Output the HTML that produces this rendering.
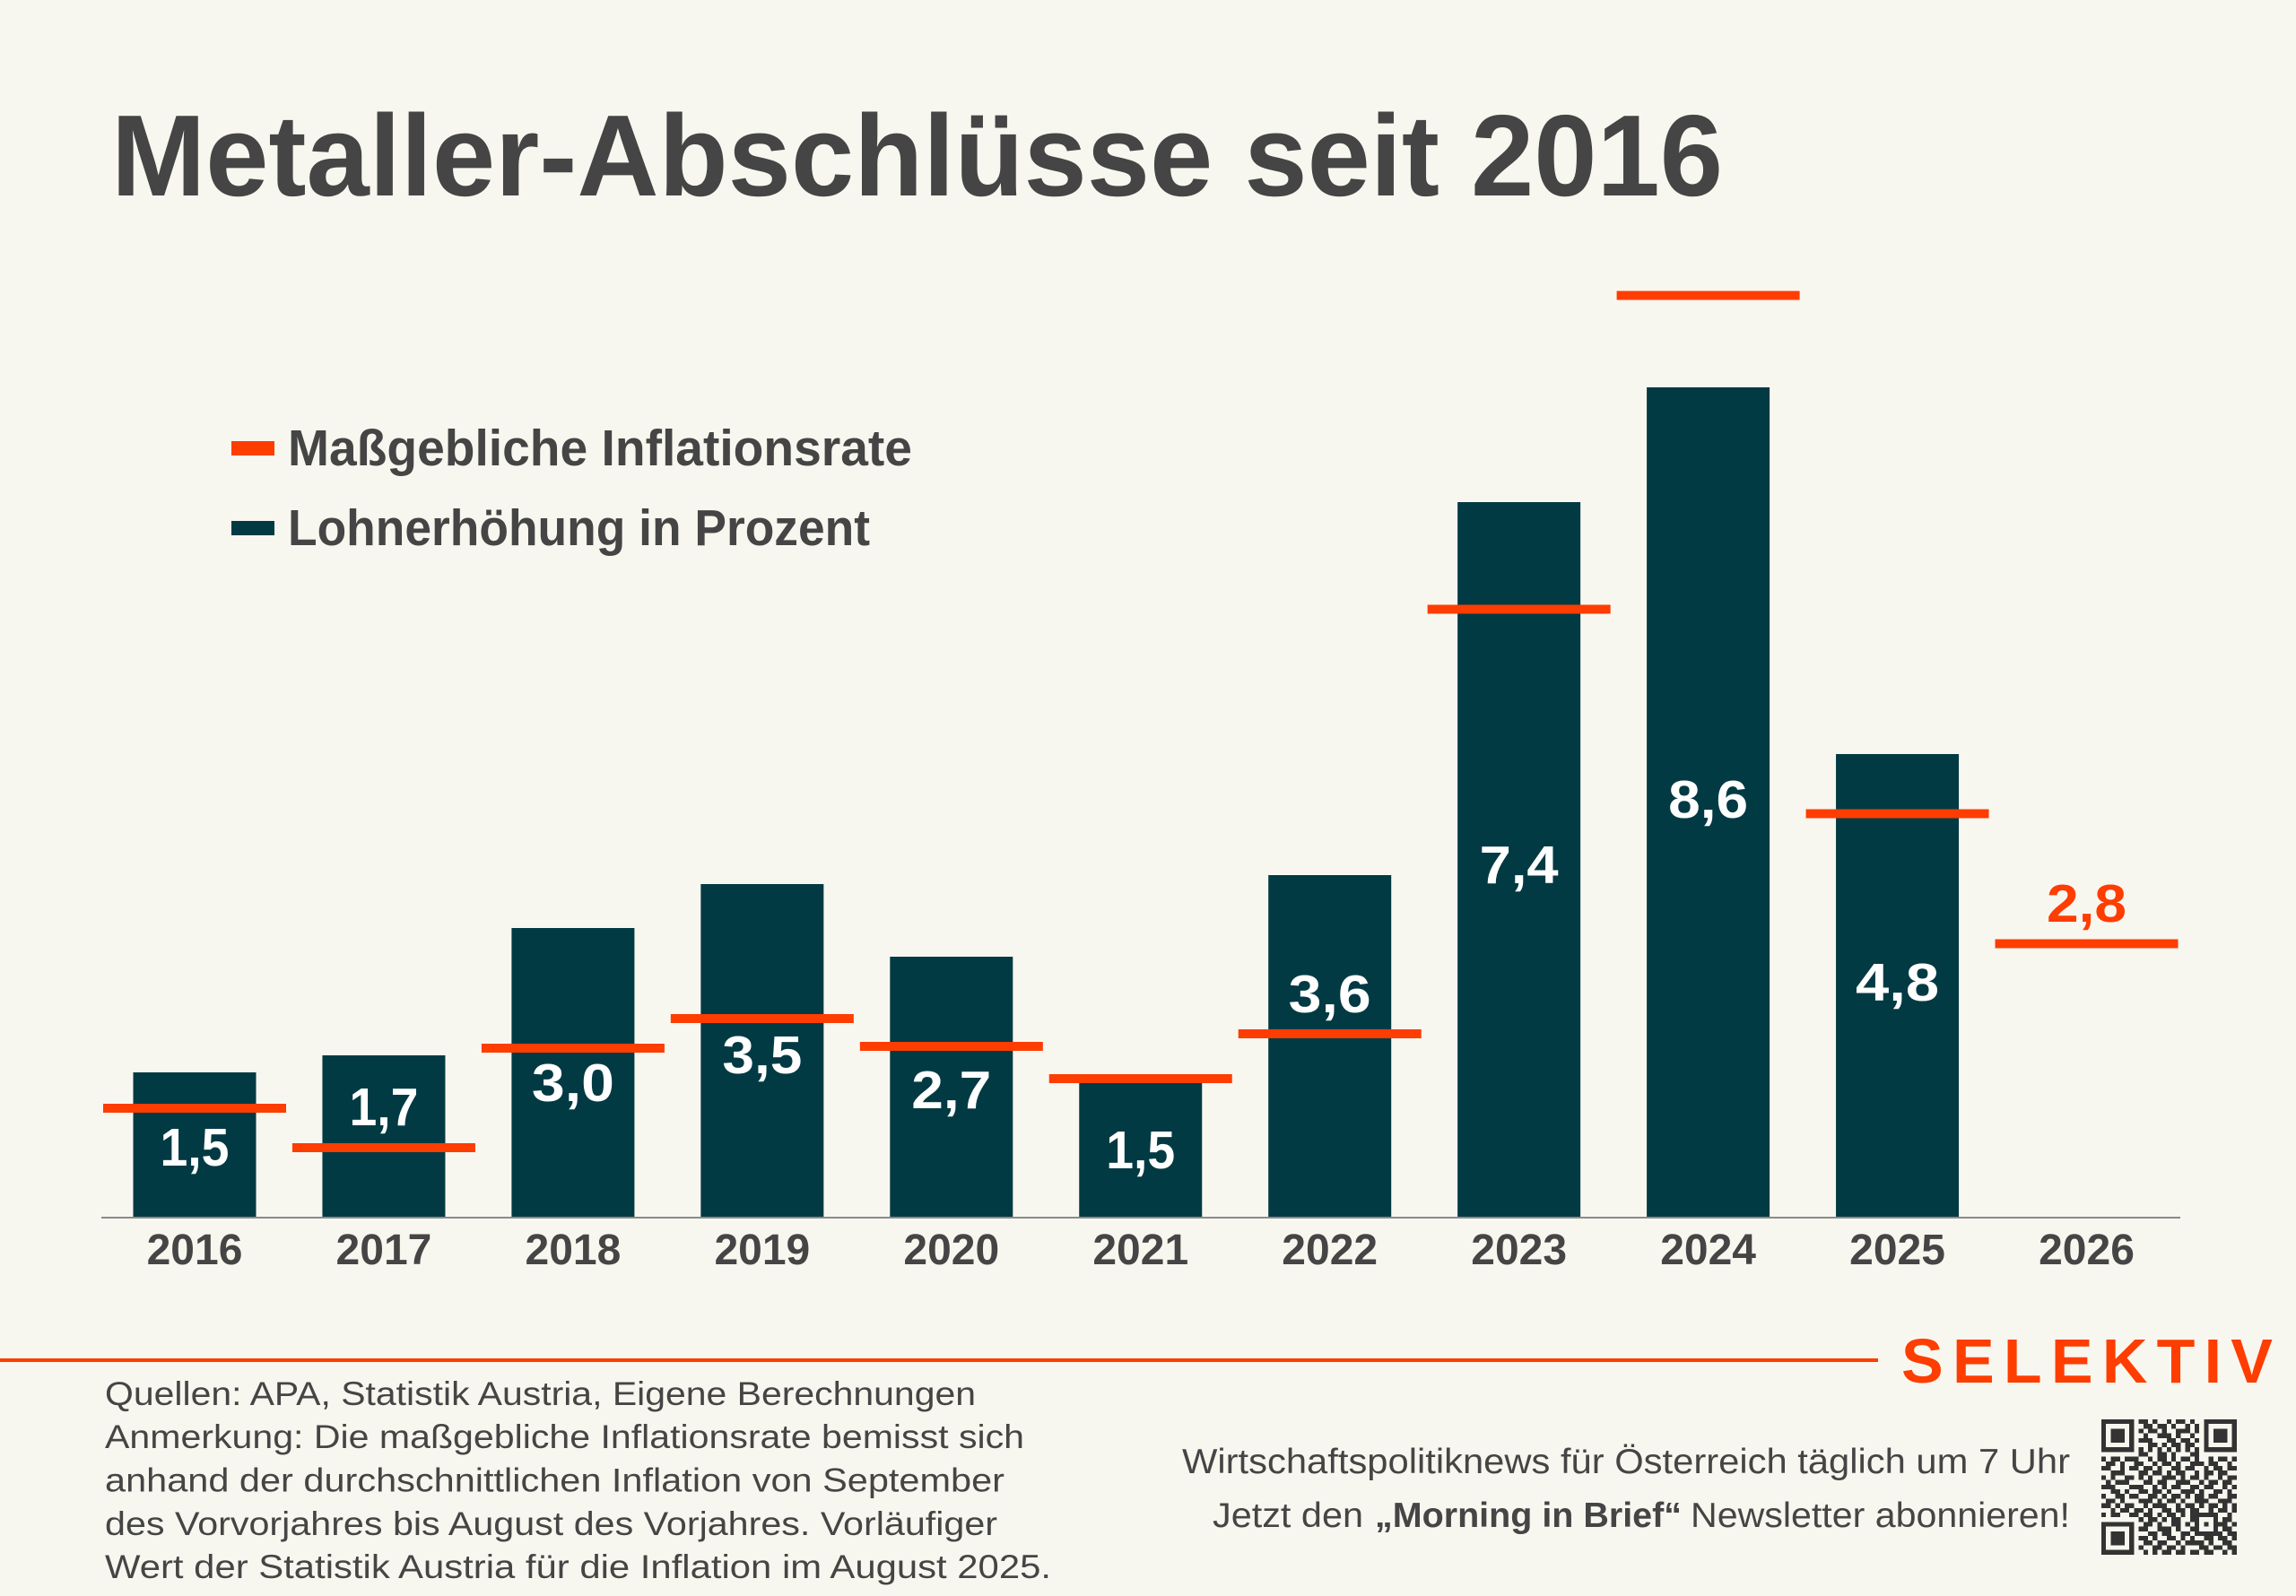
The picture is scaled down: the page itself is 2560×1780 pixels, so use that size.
<!DOCTYPE html>
<html>
<head>
<meta charset="utf-8">
<style>
html,body{margin:0;padding:0;background:#f8f7ef;}
svg{display:block;}
text{font-family:"Liberation Sans","DejaVu Sans",sans-serif;}
</style>
</head>
<body>
<svg width="2560" height="1780" viewBox="0 0 2560 1780" xmlns="http://www.w3.org/2000/svg">
<rect x="0" y="0" width="2560" height="1780" fill="#f8f7ef"/>

<!-- Title -->
<text x="124" y="218" font-size="129" font-weight="bold" fill="#454545" textLength="1797" lengthAdjust="spacingAndGlyphs">Metaller-Abschlüsse seit 2016</text>

<!-- Legend -->
<rect x="258" y="492" width="48" height="16" fill="#fe3d00"/>
<text x="321" y="519" font-size="57" font-weight="bold" fill="#454545" textLength="696" lengthAdjust="spacingAndGlyphs">Maßgebliche Inflationsrate</text>
<rect x="258" y="581" width="48" height="16" fill="#023a44"/>
<text x="321" y="608" font-size="57" font-weight="bold" fill="#454545" textLength="649" lengthAdjust="spacingAndGlyphs">Lohnerhöhung in Prozent</text>

<!-- Bars -->
<g fill="#023a44">
<rect x="148.5" y="1196" width="137" height="162"/>
<rect x="359.45" y="1177" width="137" height="181"/>
<rect x="570.4" y="1035" width="137" height="323"/>
<rect x="781.35" y="986" width="137" height="372"/>
<rect x="992.3" y="1067" width="137" height="291"/>
<rect x="1203.25" y="1200" width="137" height="158"/>
<rect x="1414.2" y="976" width="137" height="382"/>
<rect x="1625.15" y="560" width="137" height="798"/>
<rect x="1836.1" y="432" width="137" height="926"/>
<rect x="2047.05" y="841" width="137" height="517"/>
</g>

<!-- Axis -->
<rect x="113" y="1357" width="2318" height="2" fill="#8a8a8a"/>

<!-- Inflation lines -->
<g fill="#fe3d00">
<rect x="115" y="1231" width="204" height="10"/>
<rect x="325.95" y="1275" width="204" height="10"/>
<rect x="536.9" y="1164" width="204" height="10"/>
<rect x="747.85" y="1131" width="204" height="10"/>
<rect x="958.8" y="1162" width="204" height="10"/>
<rect x="1169.75" y="1198" width="204" height="10"/>
<rect x="1380.7" y="1148" width="204" height="10"/>
<rect x="1591.65" y="674.5" width="204" height="10"/>
<rect x="1802.6" y="324.5" width="204" height="10"/>
<rect x="2013.55" y="902.5" width="204" height="10"/>
<rect x="2224.5" y="1047.5" width="204" height="10"/>
</g>

<!-- Value labels -->
<g font-size="59" font-weight="bold" fill="#ffffff" text-anchor="middle">
<text x="217" y="1300" textLength="77" lengthAdjust="spacingAndGlyphs">1,5</text>
<text x="427.95" y="1255" textLength="77" lengthAdjust="spacingAndGlyphs">1,7</text>
<text x="638.9" y="1228" textLength="92" lengthAdjust="spacingAndGlyphs">3,0</text>
<text x="849.85" y="1197" textLength="89" lengthAdjust="spacingAndGlyphs">3,5</text>
<text x="1060.8" y="1236" textLength="89" lengthAdjust="spacingAndGlyphs">2,7</text>
<text x="1271.75" y="1303" textLength="77" lengthAdjust="spacingAndGlyphs">1,5</text>
<text x="1482.7" y="1129" textLength="92" lengthAdjust="spacingAndGlyphs">3,6</text>
<text x="1693.65" y="985" textLength="88" lengthAdjust="spacingAndGlyphs">7,4</text>
<text x="1904.6" y="912" textLength="89" lengthAdjust="spacingAndGlyphs">8,6</text>
<text x="2115.55" y="1116" textLength="93" lengthAdjust="spacingAndGlyphs">4,8</text>
<text x="2326.5" y="1028" fill="#fe3d00" textLength="89" lengthAdjust="spacingAndGlyphs">2,8</text>
</g>

<!-- Year labels -->
<g font-size="48" font-weight="bold" fill="#454545" text-anchor="middle">
<text x="217" y="1410">2016</text>
<text x="427.95" y="1410">2017</text>
<text x="638.9" y="1410">2018</text>
<text x="849.85" y="1410">2019</text>
<text x="1060.8" y="1410">2020</text>
<text x="1271.75" y="1410">2021</text>
<text x="1482.7" y="1410">2022</text>
<text x="1693.65" y="1410">2023</text>
<text x="1904.6" y="1410">2024</text>
<text x="2115.55" y="1410">2025</text>
<text x="2326.5" y="1410">2026</text>
</g>

<!-- Footer line + logo -->
<rect x="0" y="1515" width="2094" height="4" fill="#fe3d00"/>
<text x="2120" y="1542" font-size="70" font-weight="bold" fill="#fe3d00" textLength="414" lengthAdjust="spacing">SELEKTIV</text>

<!-- Left footer -->
<g font-size="37" fill="#454545">
<text x="117" y="1567" textLength="971" lengthAdjust="spacingAndGlyphs">Quellen: APA, Statistik Austria, Eigene Berechnungen</text>
<text x="117" y="1615" textLength="1025" lengthAdjust="spacingAndGlyphs">Anmerkung: Die maßgebliche Inflationsrate bemisst sich</text>
<text x="117" y="1663.5" textLength="1003" lengthAdjust="spacingAndGlyphs">anhand der durchschnittlichen Inflation von September</text>
<text x="117" y="1712" textLength="995" lengthAdjust="spacingAndGlyphs">des Vorvorjahres bis August des Vorjahres. Vorläufiger</text>
<text x="117" y="1760" textLength="1055" lengthAdjust="spacingAndGlyphs">Wert der Statistik Austria für die Inflation im August 2025.</text>
</g>

<!-- Right footer -->
<g font-size="39" fill="#454545">
<text x="1318" y="1643" textLength="990" lengthAdjust="spacingAndGlyphs">Wirtschaftspolitiknews für Österreich täglich um 7 Uhr</text>
<text x="1352" y="1703" textLength="168" lengthAdjust="spacingAndGlyphs">Jetzt den</text>
<text x="1533" y="1703" font-weight="bold" textLength="342" lengthAdjust="spacingAndGlyphs">„Morning in Brief“</text>
<text x="1885" y="1703" textLength="423" lengthAdjust="spacingAndGlyphs">Newsletter abonnieren!</text>
</g>

<!-- QR code -->
<g transform="translate(2343,1583) scale(5.2)" fill="#333333" shape-rendering="crispEdges">
<path d="
M0 0h7v1h-7z M8 0h2v1h-2z M11 0h1v1h-1z M14 0h1v1h-1z M16 0h2v1h-2z M19 0h1v1h-1z M22 0h7v1h-7z
M0 1h1v1h-1z M6 1h1v1h-1z M9 1h2v1h-2z M12 1h2v1h-2z M15 1h1v1h-1z M18 1h1v1h-1z M20 1h1v1h-1z M22 1h1v1h-1z M28 1h1v1h-1z
M0 2h1v1h-1z M2 2h3v1h-3z M6 2h1v1h-1z M8 2h1v1h-1z M10 2h2v1h-2z M13 2h1v1h-1z M16 2h3v1h-3z M20 2h1v1h-1z M22 2h1v1h-1z M24 2h3v1h-3z M28 2h1v1h-1z
M0 3h1v1h-1z M2 3h3v1h-3z M6 3h1v1h-1z M9 3h1v1h-1z M12 3h3v1h-3z M16 3h1v1h-1z M19 3h1v1h-1z M22 3h1v1h-1z M24 3h3v1h-3z M28 3h1v1h-1z
M0 4h1v1h-1z M2 4h3v1h-3z M6 4h1v1h-1z M8 4h3v1h-3z M14 4h2v1h-2z M17 4h2v1h-2z M20 4h1v1h-1z M22 4h1v1h-1z M24 4h3v1h-3z M28 4h1v1h-1z
M0 5h1v1h-1z M6 5h1v1h-1z M10 5h2v1h-2z M13 5h1v1h-1z M15 5h2v1h-2z M18 5h2v1h-2z M22 5h1v1h-1z M28 5h1v1h-1z
M0 6h7v1h-7z M8 6h1v1h-1z M10 6h1v1h-1z M12 6h1v1h-1z M14 6h1v1h-1z M16 6h1v1h-1z M18 6h1v1h-1z M20 6h1v1h-1z M22 6h7v1h-7z
M8 7h2v1h-2z M12 7h2v1h-2z M15 7h1v1h-1z M19 7h2v1h-2z
M0 8h1v1h-1z M2 8h2v1h-2z M5 8h3v1h-3z M10 8h1v1h-1z M12 8h2v1h-2z M15 8h1v1h-1z M17 8h2v1h-2z M20 8h1v1h-1z M23 8h1v1h-1z M25 8h2v1h-2z M28 8h1v1h-1z
M1 9h2v1h-2z M4 9h1v1h-1z M7 9h2v1h-2z M11 9h1v1h-1z M13 9h2v1h-2z M16 9h1v1h-1z M19 9h3v1h-3z M23 9h2v1h-2z M27 9h1v1h-1z
M0 10h2v1h-2z M4 10h1v1h-1z M6 10h2v1h-2z M9 10h2v1h-2z M12 10h1v1h-1z M15 10h2v1h-2z M18 10h2v1h-2z M22 10h1v1h-1z M24 10h2v1h-2z M27 10h2v1h-2z
M2 11h3v1h-3z M8 11h2v1h-2z M11 11h2v1h-2z M14 11h1v1h-1z M16 11h2v1h-2z M20 11h1v1h-1z M22 11h2v1h-2z M25 11h2v1h-2z
M0 12h1v1h-1z M2 12h1v1h-1z M5 12h2v1h-2z M8 12h1v1h-1z M10 12h1v1h-1z M13 12h3v1h-3z M17 12h1v1h-1z M19 12h2v1h-2z M22 12h1v1h-1z M25 12h1v1h-1z M27 12h2v1h-2z
M1 13h1v1h-1z M3 13h3v1h-3z M9 13h2v1h-2z M12 13h2v1h-2z M16 13h3v1h-3z M21 13h1v1h-1z M23 13h2v1h-2z M26 13h2v1h-2z
M0 14h3v1h-3z M6 14h3v1h-3z M11 14h1v1h-1z M13 14h1v1h-1z M15 14h2v1h-2z M19 14h2v1h-2z M22 14h2v1h-2z M26 14h1v1h-1z M28 14h1v1h-1z
M2 15h2v1h-2z M5 15h1v1h-1z M8 15h2v1h-2z M11 15h2v1h-2z M14 15h1v1h-1z M17 15h3v1h-3z M21 15h1v1h-1z M24 15h2v1h-2z M27 15h1v1h-1z
M0 16h1v1h-1z M3 16h2v1h-2z M6 16h2v1h-2z M10 16h2v1h-2z M13 16h1v1h-1z M15 16h2v1h-2z M18 16h1v1h-1z M20 16h2v1h-2z M23 16h2v1h-2z M27 16h2v1h-2z
M1 17h2v1h-2z M4 17h1v1h-1z M8 17h3v1h-3z M12 17h1v1h-1z M14 17h2v1h-2z M17 17h1v1h-1z M20 17h3v1h-3z M25 17h3v1h-3z
M0 18h2v1h-2z M3 18h1v1h-1z M5 18h2v1h-2z M9 18h1v1h-1z M11 18h3v1h-3z M16 18h1v1h-1z M18 18h2v1h-2z M21 18h1v1h-1z M23 18h2v1h-2z M26 18h1v1h-1z M28 18h1v1h-1z
M2 19h1v1h-1z M4 19h2v1h-2z M7 19h2v1h-2z M10 19h1v1h-1z M13 19h2v1h-2z M16 19h2v1h-2z M19 19h2v1h-2z M23 19h1v1h-1z M25 19h2v1h-2z M28 19h1v1h-1z
M0 20h1v1h-1z M2 20h2v1h-2z M6 20h2v1h-2z M9 20h2v1h-2z M12 20h1v1h-1z M14 20h2v1h-2z M17 20h1v1h-1z M19 20h6v1h-6z M27 20h1v1h-1z
M8 21h1v1h-1z M10 21h2v1h-2z M13 21h1v1h-1z M15 21h2v1h-2z M19 21h2v1h-2z M24 21h1v1h-1z M26 21h2v1h-2z
M0 22h7v1h-7z M9 22h2v1h-2z M12 22h1v1h-1z M15 22h2v1h-2z M18 22h1v1h-1z M20 22h1v1h-1z M22 22h1v1h-1z M24 22h3v1h-3z M28 22h1v1h-1z
M0 23h1v1h-1z M6 23h1v1h-1z M8 23h2v1h-2z M12 23h3v1h-3z M16 23h1v1h-1z M19 23h2v1h-2z M24 23h1v1h-1z M26 23h2v1h-2z
M0 24h1v1h-1z M2 24h3v1h-3z M6 24h1v1h-1z M10 24h2v1h-2z M13 24h2v1h-2z M17 24h2v1h-2z M20 24h6v1h-6z M27 24h2v1h-2z
M0 25h1v1h-1z M2 25h3v1h-3z M6 25h1v1h-1z M8 25h2v1h-2z M11 25h1v1h-1z M14 25h2v1h-2z M17 25h1v1h-1z M19 25h1v1h-1z M22 25h2v1h-2z M25 25h2v1h-2z M28 25h1v1h-1z
M0 26h1v1h-1z M2 26h3v1h-3z M6 26h1v1h-1z M9 26h2v1h-2z M12 26h2v1h-2z M16 26h1v1h-1z M18 26h4v1h-4z M23 26h1v1h-1z M26 26h2v1h-2z
M0 27h1v1h-1z M6 27h1v1h-1z M8 27h1v1h-1z M11 27h2v1h-2z M14 27h2v1h-2z M17 27h1v1h-1z M21 27h2v1h-2z M24 27h2v1h-2z M27 27h2v1h-2z
M0 28h7v1h-7z M9 28h1v1h-1z M11 28h1v1h-1z M13 28h2v1h-2z M16 28h2v1h-2z M19 28h2v1h-2z M22 28h2v1h-2z M26 28h1v1h-1z M28 28h1v1h-1z
"/>
</g>
</svg>
</body>
</html>
